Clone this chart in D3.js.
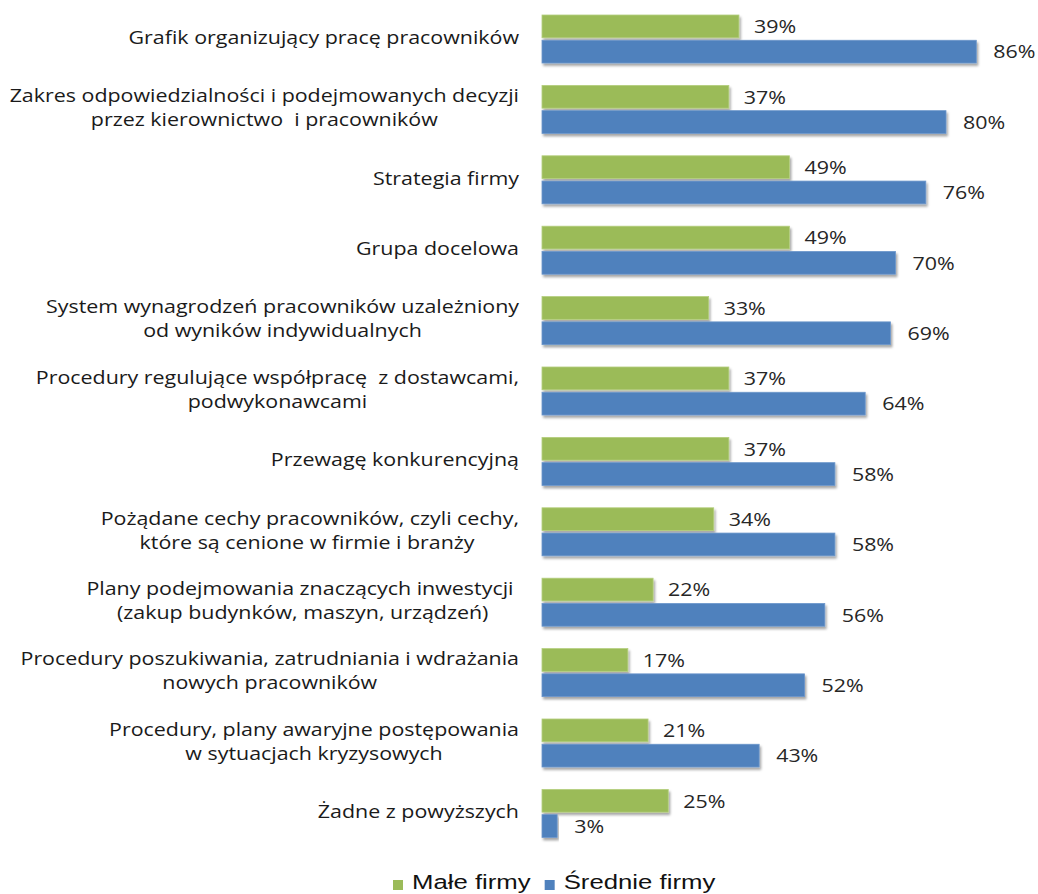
<!DOCTYPE html>
<html>
<head>
<meta charset="utf-8">
<script src="https://cdn.jsdelivr.net/npm/d3@7"></script>
<style>
  body { margin: 0; background: #fff; }
  svg { display: block; }
  text { white-space: pre; }
</style>
</head>
<body>
<div id="chart"></div>
<script>
// Category labels (lines separated by "|")
const categories = [
    "Grafik organizujący pracę pracowników",
    "Zakres odpowiedzialności i podejmowanych decyzji|przez kierownictwo  i pracowników",
    "Strategia firmy",
    "Grupa docelowa",
    "System wynagrodzeń pracowników uzależniony|od wyników indywidualnych",
    "Procedury regulujące współpracę  z dostawcami,|podwykonawcami",
    "Przewagę konkurencyjną",
    "Pożądane cechy pracowników, czyli cechy,|które są cenione w firmie i branży ",
    "Plany podejmowania znaczących inwestycji |(zakup budynków, maszyn, urządzeń)",
    "Procedury poszukiwania, zatrudniania i wdrażania|nowych pracowników",
    "Procedury, plany awaryjne postępowania|w sytuacjach kryzysowych",
    "Żadne z powyższych"
];

const smallFirms = [39, 37, 49, 49, 33, 37, 37, 34, 22, 17, 21, 25];
const mediumFirms = [86, 80, 76, 70, 69, 64, 58, 58, 56, 52, 43, 3];

const seriesNames = ["Małe firmy", "Średnie firmy"];
const seriesColors = ["#9bbb59", "#4f81bd"];

const width = 1038;
const height = 894;

// the source picture is stretched sideways, so text is too
const stretch = 1.19;
const legendStretch = 1.32;

const svg = d3.select("#chart").append("svg")
    .attr("width", width)
    .attr("height", height);

// Drop shadow like the office chart
const defs = svg.append("defs");
const shadow = defs.append("filter")
    .attr("id", "shadow")
    .attr("x", "-5%").attr("y", "-20%")
    .attr("width", "115%").attr("height", "160%");
shadow.append("feDropShadow")
    .attr("dx", 1.5).attr("dy", 2.5)
    .attr("stdDeviation", 1.2)
    .attr("flood-color", "#000")
    .attr("flood-opacity", 0.35);

// Scales
const x = d3.scaleLinear()
    .domain([0, 100])
    .range([542, 1047]);

const y = d3.scaleBand()
    .domain(d3.range(categories.length))
    .range([15, 15 + 12 * 70.4 - 22.4])
    .paddingInner(0.318)
    .paddingOuter(0);

const ySub = d3.scaleBand()
    .domain([0, 1])
    .range([0, y.bandwidth()])
    .paddingInner(0.1);

const data = categories.map((c, i) => ({
    index: i,
    label: c,
    values: [smallFirms[i], mediumFirms[i]]
}));

// Bars
const groups = svg.selectAll(".group")
    .data(data)
    .join("g")
    .attr("class", "group")
    .attr("transform", d => `translate(0,${y(d.index)})`);

groups.selectAll("rect")
    .data(d => d.values.map((v, s) => ({ v, s })))
    .join("rect")
    .attr("x", x(0))
    .attr("y", d => ySub(d.s))
    .attr("width", d => x(d.v) - x(0))
    .attr("height", ySub.bandwidth())
    .attr("fill", d => seriesColors[d.s])
    .attr("stroke", d => d.s === 0 ? "#b5cf7e" : "#6d97cb")
    .attr("stroke-width", 0.8)
    .attr("filter", "url(#shadow)");

// Value labels
groups.selectAll(".val")
    .data(d => d.values.map((v, s) => ({ v, s })))
    .join("g")
    .attr("class", "val")
    .attr("transform", d => `translate(${x(d.v) + (d.s === 0 ? 15 : 17)},${ySub(d.s) + ySub.bandwidth() / 2 + 2}) scale(${stretch},1)`)
    .append("text")
    .attr("dominant-baseline", "middle")
    .style("font-family", "'Open Sans', sans-serif")
    .style("font-size", "18px")
    .style("fill", "#262626")
    .text(d => d.v + "%");

// Category labels: right-aligned block, lines centered in it
const labelRight = 519;
const lineHeight = 24;
groups.each(function(d) {
    const lines = d.label.split("|");
    const t = d3.select(this).append("g")
        .attr("transform", `translate(${labelRight},0) scale(${stretch},1)`)
        .append("text")
        .style("font-family", "'Open Sans', sans-serif")
        .style("font-size", "18px")
        .style("fill", "#1a1a1a")
        .attr("text-anchor", "middle");
    const mid = y.bandwidth() / 2;
    lines.forEach((line, k) => {
        t.append("tspan")
            .attr("x", 0)
            .attr("y", mid + (k - (lines.length - 1) / 2) * lineHeight)
            .attr("dominant-baseline", "middle")
            .text(line);
    });
    const w = d3.max(t.selectAll("tspan").nodes(), n => n.getComputedTextLength());
    t.selectAll("tspan").attr("x", -w / 2);
});

// Legend
const legend = svg.append("g")
    .attr("transform", "translate(393,884)");
let lx = 0;
seriesNames.forEach((name, i) => {
    legend.append("rect")
        .attr("x", lx)
        .attr("y", -4)
        .attr("width", 10)
        .attr("height", 10)
        .attr("fill", seriesColors[i]);
    const t = legend.append("g")
        .attr("transform", `translate(${lx + 19},0) scale(${legendStretch},1)`)
        .append("text")
        .attr("dominant-baseline", "middle")
        .style("font-family", "'Liberation Sans', Arial, sans-serif")
        .style("font-size", "19.5px")
        .style("fill", "#111")
        .text(name);
    lx += 19 + t.node().getComputedTextLength() * legendStretch + 14;
});
</script>
</body>
</html>
